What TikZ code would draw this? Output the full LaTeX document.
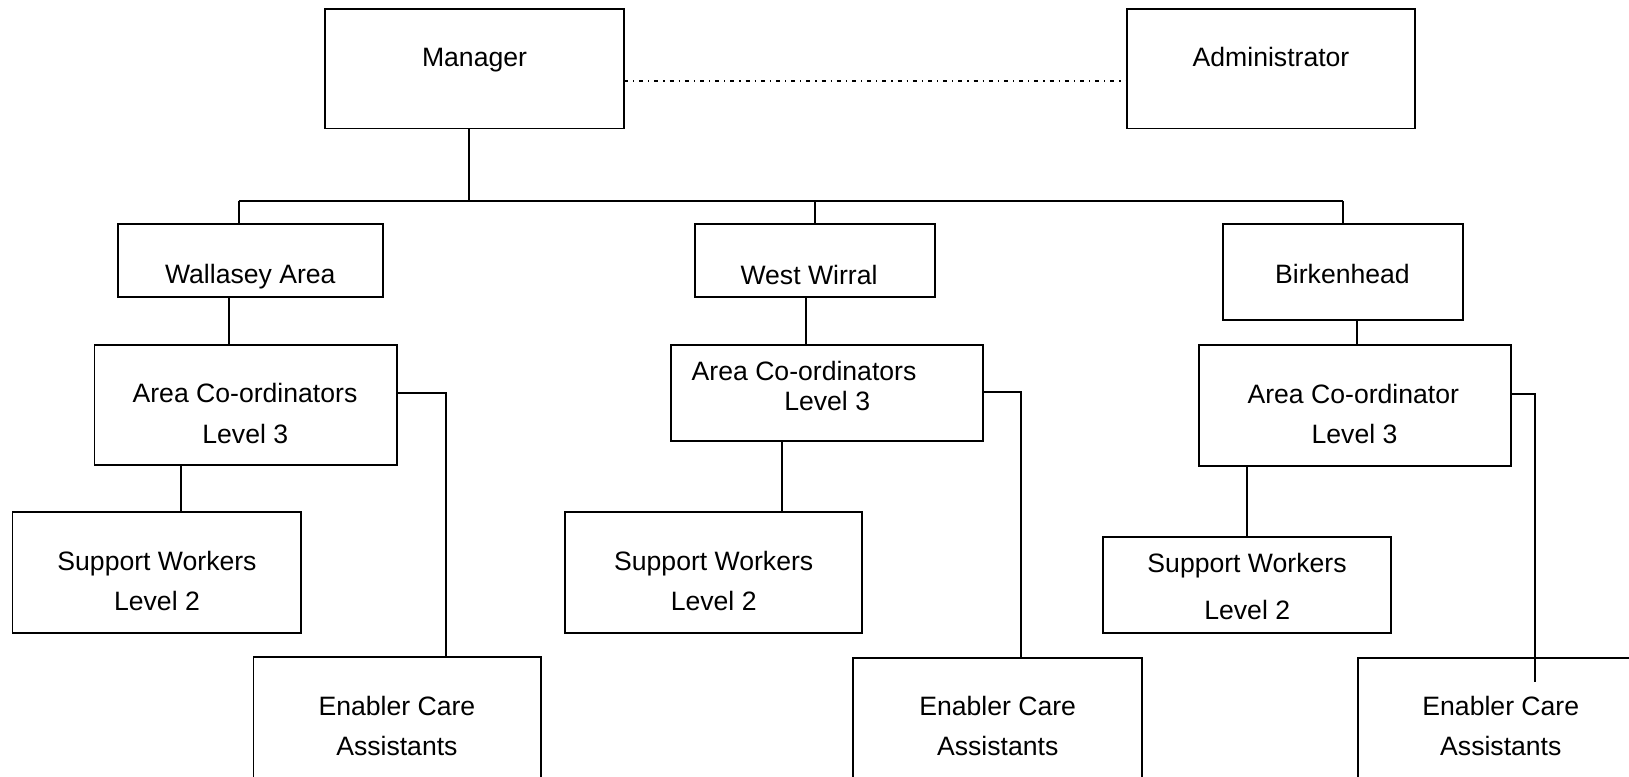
\documentclass[tikz,border=0pt]{standalone}
\usepackage{fontspec}
\setmainfont{Liberation Sans}
\tikzset{
  box/.style={draw=black, line width=1.8pt, rectangle, inner sep=0pt, outer sep=0pt},
  txt/.style={inner sep=0pt, outer sep=0pt, font=\fontsize{26.6}{32}\selectfont, text=black},
  conn/.style={draw=black, line width=1.8pt},
  dashdot/.style={draw=black, line width=1.1pt, dash pattern=on 4pt off 5pt on 1.2pt off 5pt}
}
\begin{document}
\begin{tikzpicture}[x=1pt,y=-1pt]
\useasboundingbox (0,0) rectangle (1629,776);
\fill[white] (0,0) rectangle (1629,776);
\clip (0,0) rectangle (1629,776);
% boxes
\node[box, minimum width=299pt, minimum height=119.5pt] (mgr) at (474.5,68.75) {};
\node[box, minimum width=288pt, minimum height=119.5pt] (adm) at (1271,68.75) {};
\node[box, minimum width=265pt, minimum height=72.4pt] (wal) at (250.8,260.5) {};
\node[box, minimum width=240pt, minimum height=72.4pt] (ww) at (815,260.5) {};
\node[box, minimum width=240pt, minimum height=95.5pt] (bir) at (1342.7,272.1) {};
\node[box, minimum width=302.2pt, minimum height=120pt] (ac1) at (245.6,405) {};
\node[box, minimum width=312.6pt, minimum height=95.7pt] (ac2) at (827,392.85) {};
\node[box, minimum width=311.7pt, minimum height=121pt] (ac3) at (1355.2,405.5) {};
\node[box, minimum width=288.8pt, minimum height=120.7pt] (sw1) at (156.9,572.35) {};
\node[box, minimum width=297.3pt, minimum height=120.7pt] (sw2) at (713.7,572.35) {};
\node[box, minimum width=288.3pt, minimum height=96pt] (sw3) at (1246.8,585.3) {};
\node[box, minimum width=287.8pt, minimum height=160pt] (ec1) at (397.4,736.6) {};
\node[box, minimum width=288.7pt, minimum height=160pt] (ec2) at (997.4,737.7) {};
\node[box, minimum width=360pt, minimum height=160pt] (ec3) at (1537.7,737.7) {};
% texts
\node[txt, anchor=base] (tmgr) at (474.5,66.7) {Manager};
\node[txt, anchor=base] (tadm) at (1271,66.7) {Administrator};
\node[txt, anchor=base] (twal) at (250.3,283) {Wallasey Area};
\node[txt, anchor=base] (tww) at (809,284) {West Wirral};
\node[txt, anchor=base] (tbir) at (1342.5,283.3) {Birkenhead};
\node[txt, anchor=base] (tac1a) at (245,402.7) {Area Co-ordinators};
\node[txt, anchor=base] (tac1b) at (245.3,443.3) {Level 3};
\node[txt, anchor=base west] (tac2a) at (691.7,380) {Area Co-ordinators};
\node[txt, anchor=base west] (tac2b) at (784.3,410) {Level 3};
\node[txt, anchor=base] (tac3a) at (1353.3,403.3) {Area Co-ordinator};
\node[txt, anchor=base] (tac3b) at (1354.5,443.3) {Level 3};
\node[txt, anchor=base] (tsw1a) at (157,570.6) {Support Workers};
\node[txt, anchor=base] (tsw1b) at (157,610.1) {Level 2};
\node[txt, anchor=base] (tsw2a) at (713.7,570.6) {Support Workers};
\node[txt, anchor=base] (tsw2b) at (713.7,610.1) {Level 2};
\node[txt, anchor=base] (tsw3a) at (1247,572.7) {Support Workers};
\node[txt, anchor=base] (tsw3b) at (1247.2,619) {Level 2};
\node[txt, anchor=base] (tec1a) at (396.9,715) {Enabler Care};
\node[txt, anchor=base] (tec1b) at (396.9,755) {Assistants};
\node[txt, anchor=base] (tec2a) at (997.7,715) {Enabler Care};
\node[txt, anchor=base] (tec2b) at (997.7,755) {Assistants};
\node[txt, anchor=base] (tec3a) at (1500.8,715) {Enabler Care};
\node[txt, anchor=base] (tec3b) at (1500.8,755) {Assistants};
% connector coordinates
\coordinate (mdrop) at (469.3,201);
\coordinate (busL) at (238.7,201);
\coordinate (busM) at (815,201);
\coordinate (busR) at (1343.3,201);
\coordinate (x1) at (229.3,0);
\coordinate (x2) at (805.7,0);
\coordinate (x3) at (1357.3,0);
\coordinate (s1) at (181,0);
\coordinate (s2) at (781.7,0);
\coordinate (s3) at (1247.3,0);
\coordinate (e1) at (445.7,392.7);
\coordinate (e2) at (1021,392.3);
\coordinate (e3) at (1535,394);
\coordinate (e3end) at (1535,682);
\coordinate (dash) at (0,81);
% connectors
\draw[conn] (mgr.south -| mdrop) -- (mdrop);
\draw[conn] (busL) -- (busR);
\draw[conn] (busL) -- (wal.north -| busL);
\draw[conn] (busM) -- (ww.north -| busM);
\draw[conn] (busR) -- (bir.north -| busR);
\draw[conn] (wal.south -| x1) -- (ac1.north -| x1);
\draw[conn] (ww.south -| x2) -- (ac2.north -| x2);
\draw[conn] (bir.south -| x3) -- (ac3.north -| x3);
\draw[conn] (ac1.south -| s1) -- (sw1.north -| s1);
\draw[conn] (ac2.south -| s2) -- (sw2.north -| s2);
\draw[conn] (ac3.south -| s3) -- (sw3.north -| s3);
\draw[conn] (ac1.east |- e1) -- (e1) -- (ec1.north -| e1);
\draw[conn] (ac2.east |- e2) -- (e2) -- (ec2.north -| e2);
\draw[conn] (ac3.east |- e3) -- (e3) -- (e3end);
\draw[dashdot] (mgr.east |- dash) -- (adm.west |- dash);
\end{tikzpicture}
\end{document}
